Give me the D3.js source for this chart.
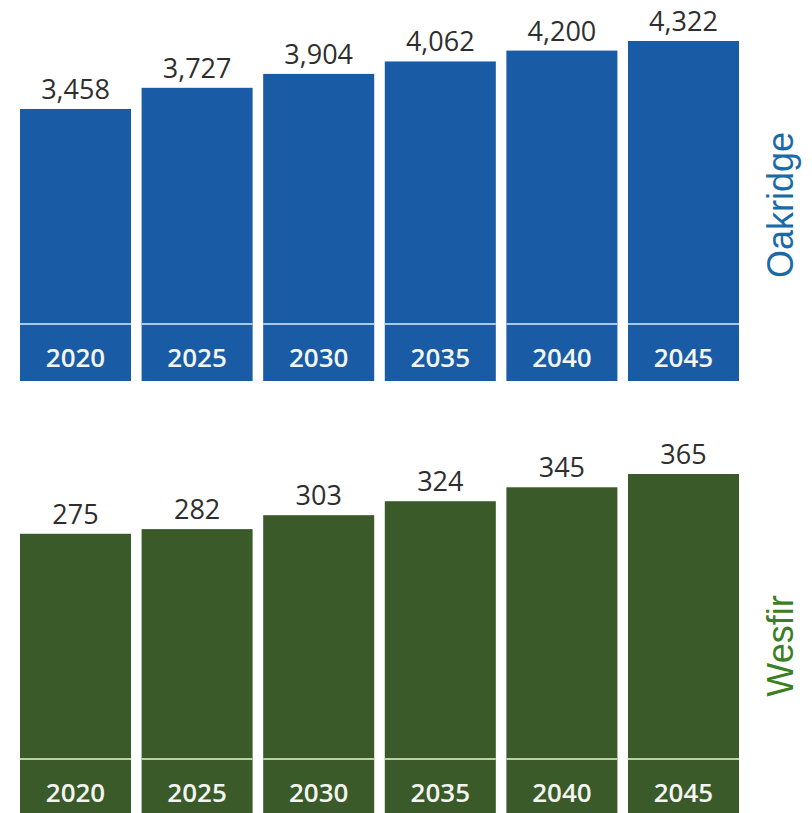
<!DOCTYPE html>
<html>
<head>
<meta charset="utf-8">
<script src="https://cdn.jsdelivr.net/npm/d3@7"></script>
<style>
  html, body { margin: 0; padding: 0; background: #ffffff; }
  svg { display: block; }
</style>
</head>
<body>
<svg id="chart" width="812" height="813"></svg>
<script>
// ---- data ----
const years = ["2020", "2025", "2030", "2035", "2040", "2045"];
const oakridgeValues = [3458, 3727, 3904, 4062, 4200, 4322];
const wesfirValues = [275, 282, 303, 324, 345, 365];
const panelNames = ["Oakridge", "Wesfir"];

const svg = d3.select("#chart");

const x = d3.scaleBand()
  .domain(years)
  .range([20, 739])
  .paddingInner(0.087)
  .paddingOuter(0);

const fmt = d3.format(",");

const panels = [
  {
    name: panelNames[0],
    values: oakridgeValues,
    y: d3.scaleLinear().domain([0, 4322]).range([381, 41]),
    base: 381,
    bar: "#1a5ba6",
    sep: "#a9c8ea",
    title: "#1b6aa8",
    cy: 205
  },
  {
    name: panelNames[1],
    values: wesfirValues,
    y: d3.scaleLinear().domain([-150, 365]).range([816, 474]),
    base: 816,
    bar: "#3b5a29",
    sep: "#b9d2a6",
    title: "#3a7f23",
    cy: 646
  }
];

panels.forEach(p => {
  const g = svg.append("g");
  const data = years.map((yr, i) => ({ year: yr, value: p.values[i] }));

  g.selectAll("rect.bar")
    .data(data)
    .join("rect")
    .attr("class", "bar")
    .attr("x", d => x(d.year))
    .attr("width", x.bandwidth())
    .attr("y", d => p.y(d.value))
    .attr("height", d => p.base - p.y(d.value))
    .attr("fill", p.bar);

  // light separator line near the bottom of each bar
  g.selectAll("rect.sep")
    .data(data)
    .join("rect")
    .attr("class", "sep")
    .attr("x", d => x(d.year))
    .attr("width", x.bandwidth())
    .attr("y", p.base - 58)
    .attr("height", 2)
    .attr("fill", p.sep);

  // year labels inside bars
  g.selectAll("text.year")
    .data(data)
    .join("text")
    .attr("class", "year")
    .attr("x", d => x(d.year) + x.bandwidth() / 2)
    .attr("y", p.base - 14)
    .attr("text-anchor", "middle")
    .attr("font-family", "'Open Sans', sans-serif")
    .attr("font-weight", 600)
    .attr("font-size", 26)
    .attr("fill", "#f2f5f0")
    .text(d => d.year);

  // value labels above bars
  g.selectAll("text.val")
    .data(data)
    .join("text")
    .attr("class", "val")
    .attr("x", d => x(d.year) + x.bandwidth() / 2)
    .attr("y", d => p.y(d.value) - 10)
    .attr("text-anchor", "middle")
    .attr("font-family", "'Open Sans', sans-serif")
    .attr("font-size", 27)
    .attr("fill", "#2e2e2e")
    .text(d => fmt(d.value));

  // rotated panel title on the right
  g.append("text")
    .attr("transform", `translate(793,${p.cy}) rotate(-90)`)
    .attr("text-anchor", "middle")
    .attr("font-family", "'Liberation Sans', Arial, sans-serif")
    .attr("font-size", 36)
    .attr("fill", p.title)
    .text(p.name);
});
</script>
</body>
</html>
